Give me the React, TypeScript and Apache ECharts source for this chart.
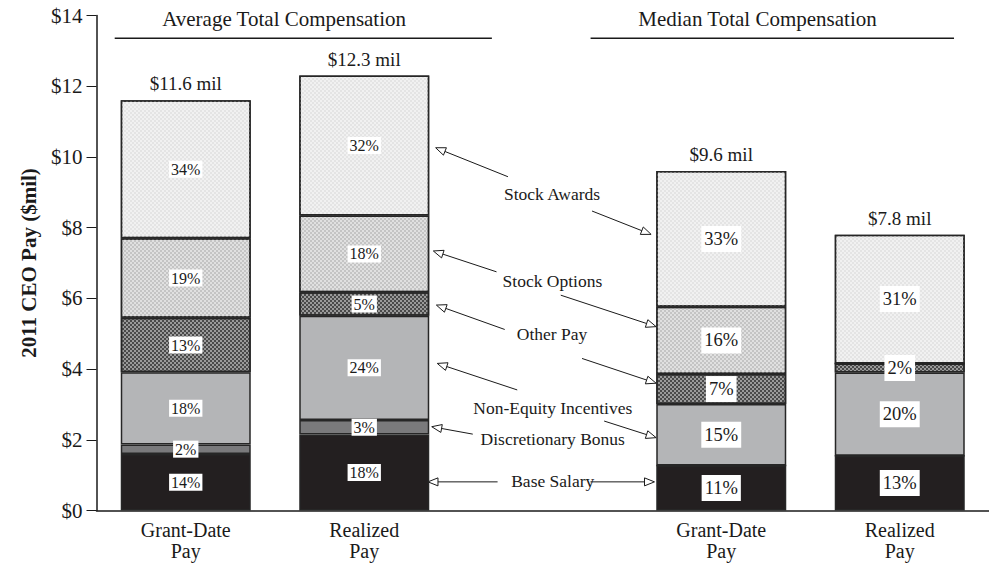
import React, { useEffect, useRef } from "react";
import * as echarts from "echarts";

const FONT = "'Liberation Serif', 'Times New Roman', serif";

const categories = ["Grant-Date\nPay", "Realized\nPay", "", "Grant-Date\nPay", "Realized\nPay"];
const yTicks = { min: 0, max: 14, interval: 2 };

// values in $ millions
const baseSalary = [1.6, 2.15, null, 1.27, 1.55];
const discretionaryBonus = [0.27, 0.41, null, 0, 0];
const nonEquityIncentives = [2.04, 2.95, null, 1.74, 2.35];
const otherPay = [1.54, 0.66, null, 0.85, 0.26];
const stockOptions = [2.25, 2.17, null, 1.9, 0];
const stockAwards = [3.9, 3.96, null, 3.84, 3.64];
const totals = [11.6, 12.3, null, 9.6, 7.8];

// percentage labels
const basePct = [14, 18, null, 11, 13];
const bonusPct = [2, 3, null, null, null];
const neiPct = [18, 24, null, 15, 20];
const otherPct = [13, 5, null, 7, 2];
const optionsPct = [19, 18, null, 16, null];
const awardsPct = [34, 32, null, 33, 31];

// annotation texts (category-unit x, $ value y)
const annoLabels = [
  { text: "Stock Awards", c: 2.052, v: 8.94 },
  { text: "Stock Options", c: 2.054, v: 6.49 },
  { text: "Other Pay", c: 2.052, v: 4.98 },
  { text: "Non-Equity Incentives", c: 2.056, v: 2.91 },
  { text: "Discretionary Bonus", c: 2.056, v: 2.01 },
  { text: "Base Salary", c: 2.056, v: 0.84 },
];
// arrows: [fromC, fromV, toC, toV]
const arrows = [
  [1.805, 9.44, 1.4, 10.26],
  [2.276, 8.47, 2.607, 7.81],
  [1.741, 6.75, 1.387, 7.34],
  [2.101, 6.09, 2.635, 5.2],
  [1.787, 5.12, 1.404, 5.81],
  [2.22, 4.3, 2.635, 3.6],
  [1.857, 3.41, 1.409, 4.16],
  [2.344, 2.53, 2.635, 2.06],
  [1.608, 2.16, 1.378, 2.37],
  [1.747, 0.81, 1.357, 0.81],
  [2.267, 0.81, 2.626, 0.81],
];
const headers = [
  { text: "Average Total Compensation", c: 0.551, v: 13.9, lineFrom: -0.398, lineTo: 1.715, lineV: 13.36 },
  { text: "Median Total Compensation", c: 3.203, v: 13.9, lineFrom: 2.268, lineTo: 4.304, lineV: 13.36 },
];

const checker = (color: string) => ({
  symbol: "rect",
  symbolSize: 1,
  color,
  dashArrayX: [[2, 2], [0, 2, 2, 0]],
  dashArrayY: [2, 0],
  rotation: 0,
});

export default function App() {
  const ref = useRef<HTMLDivElement>(null);
  useEffect(() => {
    if (!ref.current) return;
    const chart = echarts.init(ref.current, undefined, { renderer: "svg" });

    const mkData = (vals: (number | null)[], pcts: (number | null)[]) =>
      vals.map((v, i) => {
        const big = i >= 3;
        const p = pcts[i];
        return {
          value: v === null ? "-" : v,
          label: {
            show: p !== null && p !== undefined,
            fontSize: big ? 18.5 : 16,
            padding: big ? [4, 3, 3, 3] : [1, 2, 0, 2],
            formatter: p !== null ? `${p}%` : "",
          },
        };
      });

    const segStyle = (color: string, decal?: any) => ({
      color,
      borderColor: "#262626",
      borderWidth: 1.5,
      ...(decal ? { decal } : {}),
    });

    const labelBase = {
      show: true,
      position: "inside",
      color: "#1a1a1a",
      fontFamily: FONT,
      backgroundColor: "#ffffff",
    };

    const seriesDefs = [
      { name: "Base Salary", vals: baseSalary, pcts: basePct, style: segStyle("#231f20") },
      { name: "Discretionary Bonus", vals: discretionaryBonus, pcts: bonusPct, style: segStyle("#7a7a7c") },
      { name: "Non-Equity Incentives", vals: nonEquityIncentives, pcts: neiPct, style: segStyle("#b4b5b7") },
      { name: "Other Pay", vals: otherPay, pcts: otherPct, style: segStyle("#9a9a9a", checker("#4a4a4a")) },
      { name: "Stock Options", vals: stockOptions, pcts: optionsPct, style: segStyle("#e0e0e0", checker("#c4c4c4")) },
      { name: "Stock Awards", vals: stockAwards, pcts: awardsPct, style: segStyle("#f1f1f1", checker("#e4e4e4")) },
    ];

    const series: any[] = seriesDefs.map((d) => ({
      name: d.name,
      type: "bar",
      stack: "pay",
      barWidth: 130,
      itemStyle: d.style,
      label: labelBase,
      data: mkData(d.vals, d.pcts),
    }));

    series.push({
      name: "Total",
      type: "bar",
      stack: "pay",
      barWidth: 130,
      itemStyle: { color: "transparent", borderWidth: 0 },
      label: {
        show: true,
        position: "top",
        distance: 7,
        fontFamily: FONT,
        fontSize: 19,
        color: "#1a1a1a",
        formatter: (p: any) => (totals[p.dataIndex] !== null ? `$${totals[p.dataIndex]} mil` : ""),
      },
      data: totals.map((t) => (t === null ? "-" : 0)),
    });

    chart.setOption({
      animation: false,
      backgroundColor: "#ffffff",
      textStyle: { fontFamily: FONT },
      grid: { left: 96.5, right: -11.5, top: 15.5, bottom: 52.5, containLabel: false },
      xAxis: {
        type: "category",
        data: categories,
        boundaryGap: true,
        axisLine: { show: true, lineStyle: { color: "#1a1a1a", width: 1.5 } },
        axisTick: { show: false },
        axisLabel: {
          fontFamily: FONT,
          fontSize: 20,
          lineHeight: 21,
          color: "#1a1a1a",
          margin: 9,
          interval: 0,
        },
        splitLine: { show: false },
      },
      yAxis: {
        type: "value",
        min: yTicks.min,
        max: yTicks.max,
        interval: yTicks.interval,
        name: "2011 CEO Pay ($mil)",
        nameLocation: "middle",
        nameGap: 57,
        nameRotate: 90,
        nameTextStyle: { fontFamily: FONT, fontSize: 21, fontWeight: "bold", color: "#1a1a1a" },
        axisLine: { show: true, lineStyle: { color: "#1a1a1a", width: 1.5 } },
        axisTick: { show: true, length: 10, inside: false, lineStyle: { color: "#1a1a1a", width: 1 } },
        axisLabel: {
          fontFamily: FONT,
          fontSize: 21,
          color: "#1a1a1a",
          margin: 14,
          formatter: (v: number) => `$${v}`,
        },
        splitLine: { show: false },
      },
      series,
    });

    const x0 = chart.convertToPixel({ xAxisIndex: 0 }, 0) as number;
    const x1 = chart.convertToPixel({ xAxisIndex: 0 }, 1) as number;
    const X = (c: number) => x0 + c * (x1 - x0);
    const Y = (v: number) => chart.convertToPixel({ yAxisIndex: 0 }, v) as number;

    const graphic: any[] = [];
    headers.forEach((h) => {
      graphic.push({
        type: "text",
        x: X(h.c),
        y: Y(h.v),
        style: {
          text: h.text,
          fontFamily: FONT,
          fontSize: 21,
          fill: "#1a1a1a",
          textAlign: "center",
          textVerticalAlign: "middle",
        },
      });
      graphic.push({
        type: "line",
        shape: { x1: X(h.lineFrom), y1: Y(h.lineV), x2: X(h.lineTo), y2: Y(h.lineV) },
        style: { stroke: "#1a1a1a", lineWidth: 1.5 },
      });
    });
    annoLabels.forEach((a) => {
      graphic.push({
        type: "text",
        x: X(a.c),
        y: Y(a.v),
        style: {
          text: a.text,
          fontFamily: FONT,
          fontSize: 17.5,
          fill: "#1a1a1a",
          textAlign: "center",
          textVerticalAlign: "middle",
        },
      });
    });
    arrows.forEach(([fc, fv, tc, tv]) => {
      const sx = X(fc), sy = Y(fv), tx = X(tc), ty = Y(tv);
      const dx = tx - sx, dy = ty - sy;
      const len = Math.sqrt(dx * dx + dy * dy) || 1;
      const ux = dx / len, uy = dy / len;
      const nx = -uy, ny = ux;
      const L = 10, W = 4;
      const bx = tx - ux * L, by = ty - uy * L;
      graphic.push({
        type: "line",
        shape: { x1: sx, y1: sy, x2: bx, y2: by },
        style: { stroke: "#1a1a1a", lineWidth: 1 },
      });
      graphic.push({
        type: "polygon",
        shape: { points: [[tx, ty], [bx + nx * W, by + ny * W], [bx - nx * W, by - ny * W]] },
        style: { fill: "#ffffff", stroke: "#1a1a1a", lineWidth: 1 },
      });
    });

    chart.setOption({ graphic });

    return () => chart.dispose();
  }, []);

  return (
    <div
      ref={ref}
      style={{ position: "fixed", left: 0, top: 0, width: 989, height: 563, background: "#fff" }}
    />
  );
}
